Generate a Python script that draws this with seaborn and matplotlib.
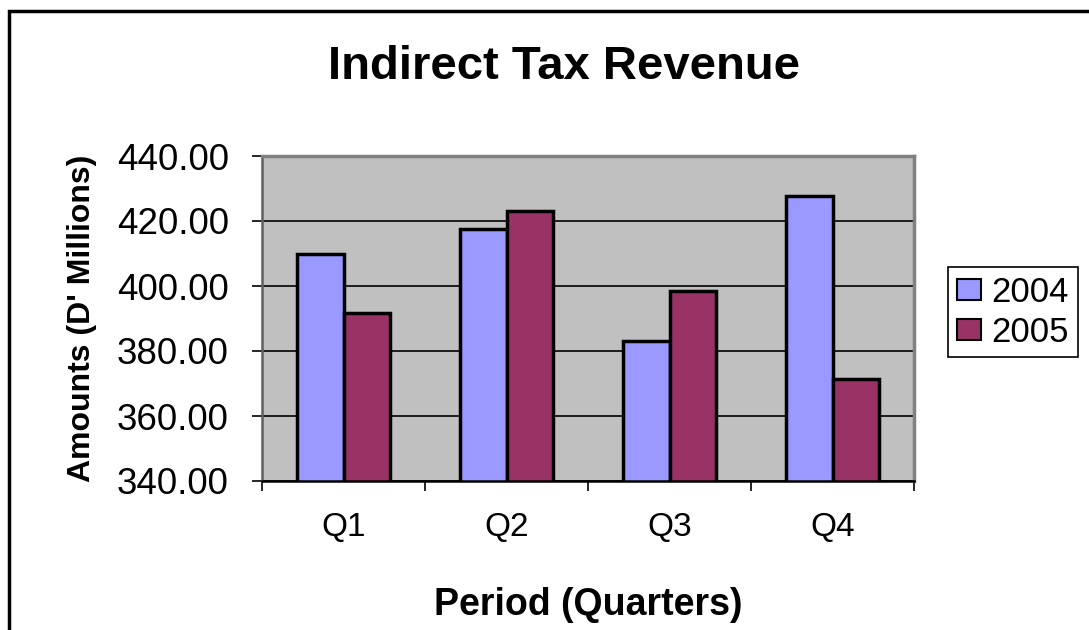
import matplotlib
matplotlib.use("Agg")
import matplotlib.pyplot as plt
from matplotlib.patches import Rectangle
from matplotlib.ticker import FormatStrFormatter, FixedLocator
import seaborn as sns
import pandas as pd

quarters = ["Q1", "Q2", "Q3", "Q4"]
values_2004 = [410.0, 417.4, 383.0, 427.6]
values_2005 = [391.8, 423.2, 398.4, 371.3]
years = ["2004", "2005"]
colors = ["#9999FF", "#993366"]

df = pd.DataFrame({
    "Quarter": quarters * 2,
    "Year": [years[0]] * 4 + [years[1]] * 4,
    "Amount": values_2004 + values_2005,
})

sns.set_theme(style="white")
plt.rcParams["font.family"] = ["Liberation Sans", "DejaVu Sans"]
plt.rcParams["text.color"] = "black"
plt.rcParams["axes.labelcolor"] = "black"
plt.rcParams["xtick.color"] = "black"
plt.rcParams["ytick.color"] = "black"

fig = plt.figure(figsize=(10.89, 6.30), dpi=100)
ax = fig.add_axes([262/1089, 1-481/630, (914-262)/1089, (481-156)/630])
ax.set_facecolor("#C0C0C0")

sns.barplot(data=df, x="Quarter", y="Amount", hue="Year", palette=colors,
            width=0.565, gap=0, edgecolor="black", linewidth=2.5,
            saturation=1, ax=ax, legend=True, errorbar=None)

ax.set_ylim(340, 440)
ax.set_xlim(-0.5, 3.5)
ax.set_yticks([340, 360, 380, 400, 420, 440])
ax.yaxis.set_major_formatter(FormatStrFormatter("%.2f"))
ax.grid(axis="y", color="black", linewidth=1.2)
ax.set_axisbelow(True)

ax.xaxis.set_minor_locator(FixedLocator([-0.5, 0.5, 1.5, 2.5, 3.5]))
ax.tick_params(axis="x", which="major", length=0, labelsize=24, pad=22)
ax.tick_params(axis="x", which="minor", length=7, width=1.2, direction="out", color="black", bottom=True)
ax.tick_params(axis="y", which="major", length=7, width=1.2, direction="out", color="black",
               labelsize=26.5, left=True, pad=17)

for side in ["top", "right"]:
    ax.spines[side].set_color("#808080")
    ax.spines[side].set_linewidth(2.5)
ax.spines["left"].set_color("#606060")
ax.spines["left"].set_linewidth(1.8)
ax.spines["bottom"].set_color("black")
ax.spines["bottom"].set_linewidth(1.8)

ax.set_xlabel("Period (Quarters)", fontsize=27, fontweight="bold", labelpad=32)
ax.set_ylabel("Amounts (D' Millions)", fontsize=23, fontweight="bold", labelpad=14)

fig.text(564/1089, 1-67/630, "Indirect Tax Revenue", fontsize=34, fontweight="bold",
         ha="center", va="center")

handles, labels = ax.get_legend_handles_labels()
ax.legend_.remove()
leg = fig.legend(handles, labels, loc="upper left",
                 bbox_to_anchor=(948/1089, 1-267/630), bbox_transform=fig.transFigure,
                 fontsize=25, frameon=True, fancybox=False, edgecolor="black", framealpha=1,
                 borderaxespad=0, handlelength=0.7, handleheight=0.55,
                 handletextpad=0.3, labelspacing=0.2, borderpad=0.25)
leg.get_frame().set_linewidth(1.2)
for h in leg.legend_handles:
    h.set_edgecolor("black")
    h.set_linewidth(1.5)

fig.patches.append(Rectangle((9/1089, -0.2), 1.5, 1.2 - 11/630, transform=fig.transFigure,
                             fill=False, edgecolor="black", linewidth=2.5, clip_on=False))

fig.savefig("out.png", dpi=100, facecolor="white")
